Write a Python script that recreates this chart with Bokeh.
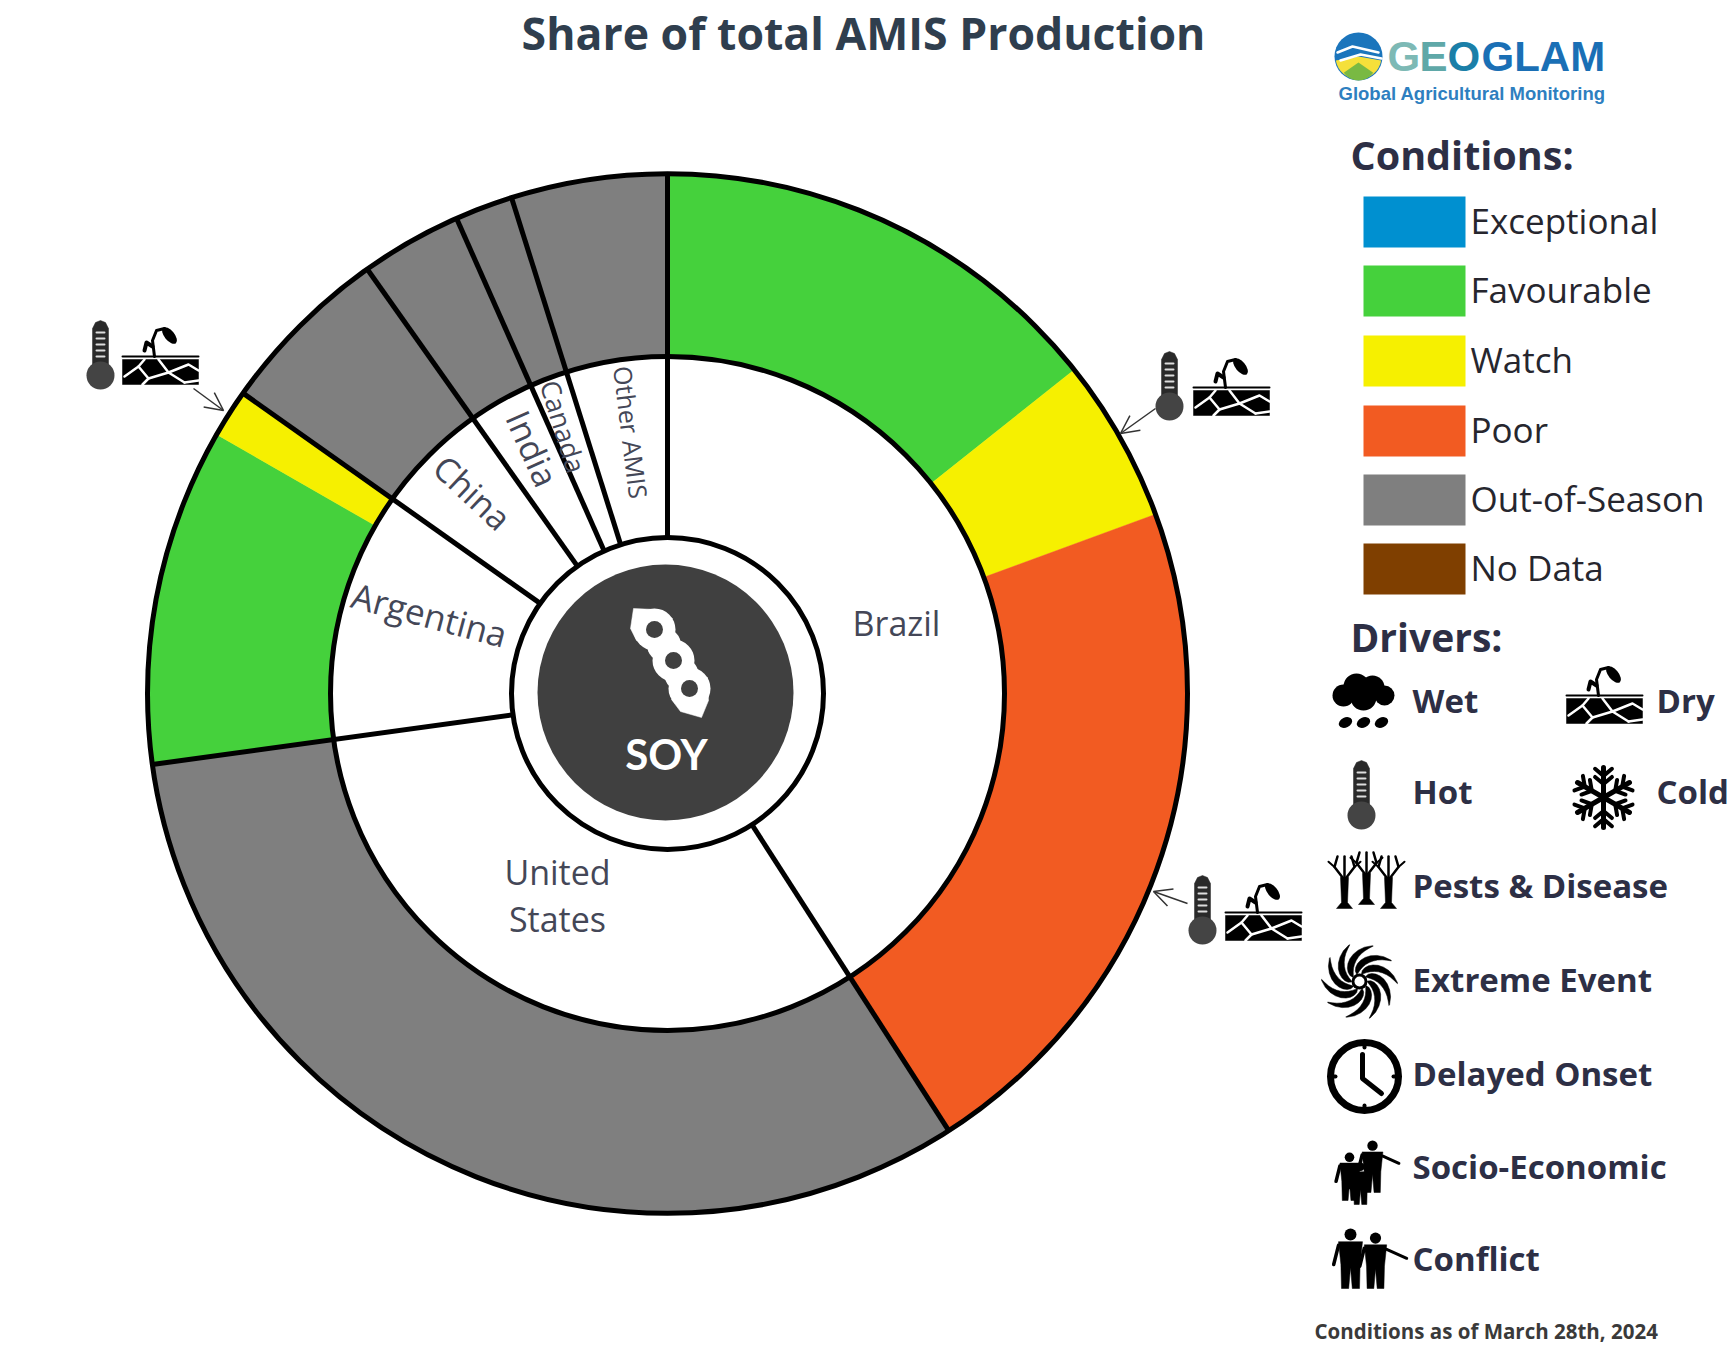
import math
import numpy as np
from bokeh.plotting import figure
from bokeh.models import Range1d, Arrow, OpenHead
from bokeh.core.properties import value
from bokeh.embed import file_html
from bokeh.resources import INLINE

# ---------- data ----------
countries = ["Brazil", "United States", "Argentina", "China", "India", "Canada", "Other AMIS"]
brazil_parts = [("Favourable", 14.3), ("Watch", 5.1), ("Poor", 21.5)]
us_parts = [("Out-of-Season", 31.92)]
argentina_parts = [("Favourable", 10.48), ("Watch", 1.5)]
china_parts = [("Out-of-Season", 5.4)]
india_parts = [("Out-of-Season", 3.15)]
canada_parts = [("Out-of-Season", 1.8)]
other_parts = [("Out-of-Season", 4.85)]
country_parts = [brazil_parts, us_parts, argentina_parts, china_parts, india_parts, canada_parts, other_parts]

condition_names = ["Exceptional", "Favourable", "Watch", "Poor", "Out-of-Season", "No Data"]
condition_colors = ["#0090d0", "#45d13c", "#f6f000", "#f25b22", "#7f7f7f", "#7f3f00"]
color_of = dict(zip(condition_names, condition_colors))

INK = "#2d2f45"
W, H = 1730, 1350
p = figure(width=W, height=H, output_backend="svg", toolbar_location=None,
           x_range=Range1d(0, W), y_range=Range1d(0, H), min_border=0)
p.xaxis.visible = False
p.yaxis.visible = False
p.xgrid.visible = False
p.ygrid.visible = False
p.outline_line_color = None
p.background_fill_color = "white"
p.border_fill_color = "white"


def Y(py):
    return 1350 - py


def txt(x, py, s, size, font="Open Sans", color=INK, style="normal", align="left", angle=0.0):
    p.text(x=[x], y=[Y(py - 2)], text=[s], text_font=value(font), text_font_size=value(f"{size}px"),
           text_color=color, text_font_style=style, text_align=align, text_baseline="middle",
           angle=[math.radians(angle)])


def poly(pts, color="black"):
    p.patch(x=[a for a, _ in pts], y=[Y(b) for _, b in pts], fill_color=color, line_color=color, line_width=0.5)


def line(pts, color="black", w=3.0):
    p.line(x=[a for a, _ in pts], y=[Y(b) for _, b in pts], line_color=color, line_width=w, line_cap="round",
           line_join="round")


def disc(x, py, r, color="black", rx=None):
    p.ellipse(x=[x], y=[Y(py)], width=[2 * (rx or r)], height=[2 * r], fill_color=color, line_color=None)


# ---------- sunburst ----------
CX, CY = 667, 693
R_OUT, R_MID, R_IN, R_HUB = 520, 337, 156, 127
BLACK_W = 5


def ang(share):
    return math.radians(90 - 360 * share / 100)


cum = 0.0
boundaries = []
for parts in country_parts:
    for cond, share in parts:
        p.annular_wedge(x=[CX], y=[Y(CY)], inner_radius=R_MID, outer_radius=R_OUT,
                        start_angle=[ang(cum)], end_angle=[ang(cum + share)], direction="clock",
                        fill_color=color_of[cond], line_color=color_of[cond], line_width=0.5)
        cum += share
    boundaries.append(cum)

p.circle(x=[CX], y=[Y(CY)], radius=R_MID, fill_color="white", line_color="black", line_width=BLACK_W)
p.circle(x=[CX], y=[Y(CY)], radius=R_OUT, fill_color=None, line_color="black", line_width=BLACK_W)
for b in [0.0] + boundaries[:-1]:
    a = ang(b)
    p.segment(x0=[CX + R_IN * math.cos(a)], y0=[Y(CY) + R_IN * math.sin(a)],
              x1=[CX + R_OUT * math.cos(a)], y1=[Y(CY) + R_OUT * math.sin(a)],
              line_color="black", line_width=BLACK_W)
p.circle(x=[CX], y=[Y(CY)], radius=R_IN, fill_color="white", line_color="black", line_width=BLACK_W)
disc(CX - 2, CY - 1, R_HUB + 1, "#404040")

# pod: pointed ends and three rounded lobes, each with a seed hole
pod_holes = [(654, 629), (673, 660), (689, 688)]
poly([(633, 608), (655, 609), (672, 618), (636, 640), (630, 628)], "white")
poly([(701, 717), (680, 711), (671, 699), (707, 677), (708, 700)], "white")
for hx, hy in pod_holes:
    disc(hx, hy, 21, "white")
for (ax, ay), (bx, by) in zip(pod_holes[:-1], pod_holes[1:]):
    disc((ax + bx) / 2, (ay + by) / 2, 17, "white")
for hx, hy in pod_holes:
    disc(hx, hy, 8.5, "#404040")
txt(666, 755, "SOY", 42, font="Lato", color="white", style="bold", align="center")

# ring labels
LAB = "#444757"
txt(896, 624, "Brazil", 34, color=LAB, align="center")
txt(557, 873, "United", 34, color=LAB, align="center")
txt(557, 920, "States", 34, color=LAB, align="center")
txt(429, 616, "Argentina", 35, color=LAB, align="center", angle=-15)
txt(472, 494, "China", 34, color=LAB, align="center", angle=-43)
txt(532, 450, "India", 34, color=LAB, align="center", angle=-66)
txt(563, 428, "Canada", 27, color=LAB, align="center", angle=-73)
txt(631, 437, "Other  AMIS", 25, color=LAB, align="center", angle=-83)

# title and footer
txt(863, 34, "Share of total AMIS Production", 44.6, color="#2f3e4e", style="bold", align="center")
txt(1314, 1332, "Conditions as of March 28th, 2024", 20.5, color="#3a3a3a", style="bold")


# ---------- icons ----------
def thermometer(cx, top):
    poly([(cx - 8, top + 8), (cx - 5, top + 2), (cx, top), (cx + 5, top + 2), (cx + 8, top + 8), (cx + 8, top + 55),
          (cx - 8, top + 55)], "#2a2a2a")
    disc(cx, top + 55, 14, "#444444")
    for k in range(5):
        line([(cx - 4, top + 12 + 6 * k), (cx + 4, top + 12 + 6 * k)], "#dddddd", 2)


def dry(x0, base):
    """Cracked soil with a wilting seedling; x0 = left edge, base = bottom of the soil."""
    poly([(x0, base - 25), (x0 + 76, base - 25), (x0 + 76, base), (x0, base)], "black")
    line([(x0, base - 28), (x0 + 76, base - 28)], "black", 2)
    cracks = [[(x0 + 2, base - 8), (x0 + 16, base - 18), (x0 + 26, base - 6), (x0 + 20, base)],
              [(x0 + 16, base - 18), (x0 + 22, base - 25)],
              [(x0 + 26, base - 6), (x0 + 46, base - 12), (x0 + 62, base - 2)],
              [(x0 + 46, base - 12), (x0 + 36, base - 25)],
              [(x0 + 46, base - 12), (x0 + 66, base - 20), (x0 + 76, base - 14)],
              [(x0 + 62, base - 2), (x0 + 76, base - 4)]]
    for c in cracks:
        line(c, "white", 2.5)
    line([(x0 + 32, base - 28), (x0 + 30, base - 44), (x0 + 34, base - 54), (x0 + 42, base - 56)], "black", 3)
    line([(x0 + 30, base - 38), (x0 + 24, base - 42), (x0 + 22, base - 34)], "black", 4)
    p.ellipse(x=[x0 + 47], y=[Y(base - 49)], width=[20], height=[10], angle=[math.radians(-50)],
              fill_color="black", line_color=None)


def wet(cx, cy):
    for dx, dy, r in [(-20, 2, 11), (-7, -7, 13), (9, -6, 12), (21, 2, 10), (0, 4, 13)]:
        disc(cx + dx, cy + dy, r)
    for dx in (-18, 0, 18):
        p.ellipse(x=[cx + dx], y=[Y(cy + 29)], width=[14], height=[10], angle=[math.radians(25)],
                  fill_color="black", line_color=None)


def cold(cx, cy, r=30):
    for k in range(6):
        a = math.radians(60 * k + 90)
        ca, sa = math.cos(a), math.sin(a)
        line([(cx, cy), (cx + r * ca, cy + r * sa)], "black", 5)
        for f in (0.45, 0.72):
            bx, by = cx + f * r * ca, cy + f * r * sa
            for s in (-1, 1):
                b = a + s * math.radians(50)
                line([(bx, by), (bx + 11 * math.cos(b), by + 11 * math.sin(b))], "black", 4)


def tree(cx, base, h):
    poly([(cx - 8, base), (cx - 3, base - 6), (cx - 4, base - h * 0.6), (cx + 4, base - h * 0.6), (cx + 3, base - 6),
          (cx + 8, base)], "black")
    for s in (-1, 1):
        line([(cx, base - h * 0.55), (cx + s * 10, base - h * 0.8), (cx + s * 7, base - h)], "black", 2.5)
        line([(cx + s * 10, base - h * 0.8), (cx + s * 16, base - h * 0.9)], "black", 2)
    line([(cx, base - h * 0.55), (cx, base - h)], "black", 2.5)


def extreme(cx, cy, r=38):
    for k in range(10):
        t0 = 2 * math.pi * k / 10
        rr = np.linspace(8, r, 10)
        th = t0 + 1.3 * (rr - 8) / (r - 8)
        wid = (4.0 * np.sin(np.pi * (rr - 8) / (r - 8)) ** 0.7 + 0.5) / rr
        side_a = [(cx + q * math.cos(t - d), cy + q * math.sin(t - d)) for q, t, d in zip(rr, th, wid)]
        side_b = [(cx + q * math.cos(t + d), cy + q * math.sin(t + d)) for q, t, d in zip(rr, th, wid)]
        poly(side_a + side_b[::-1])
    disc(cx, cy, 8, "black")
    disc(cx, cy, 5, "white")


def clock(cx, cy, r=34):
    p.circle(x=[cx], y=[Y(cy)], radius=r, fill_color="white", line_color="black", line_width=7)
    line([(cx - 2, cy - 22), (cx - 2, cy + 2), (cx + 17, cy + 17)], "black", 5)
    for k in range(4):
        a = math.pi / 2 * k
        line([(cx + (r - 5) * math.cos(a), cy + (r - 5) * math.sin(a)),
              (cx + r * math.cos(a), cy + r * math.sin(a))], "black", 4)


def person(cx, top, h, arm=0):
    u = h / 10
    disc(cx, top + u, u)
    poly([(cx - 2 * u, top + 2.2 * u), (cx + 2 * u, top + 2.2 * u), (cx + 1.6 * u, top + 6 * u),
          (cx + 1.5 * u, top + h), (cx + 0.3 * u, top + h), (cx, top + 6.5 * u), (cx - 0.3 * u, top + h),
          (cx - 1.5 * u, top + h), (cx - 1.6 * u, top + 6 * u)])
    line([(cx - 2 * u, top + 2.8 * u), (cx - 2.8 * u, top + 6 * u)], "black", 3.5)
    if arm:
        line([(cx + 2 * u, top + 3 * u), (cx + 2 * u + arm, top + 3 * u + arm * 0.45)], "black", 3)


# ---------- logo ----------
disc(1358, 56, 24, "#1b75bc", rx=24)
p.wedge(x=[1358], y=[Y(56)], radius=23, start_angle=[math.radians(190)], end_angle=[math.radians(350)],
        fill_color="#f5e03a", line_color=None)
p.wedge(x=[1358], y=[Y(62)], radius=18, start_angle=[math.radians(215)], end_angle=[math.radians(325)],
        fill_color="#79b943", line_color=None)
line([(1337, 52), (1352, 46), (1378, 52)], "white", 2.5)
line([(1340, 60), (1360, 54), (1381, 58)], "white", 2.5)
txt(1387, 58, "G", 42, font="Liberation Sans", color="#7db9b5", style="bold")
txt(1419, 58, "E", 42, font="Liberation Sans", color="#5fa8a8", style="bold")
txt(1447, 58, "O", 42, font="Liberation Sans", color="#1a7fa8", style="bold")
txt(1481, 58, "GLAM", 42, font="Liberation Sans", color="#1a6fb5", style="bold")
txt(1338, 95, "Global Agricultural Monitoring", 18.5, font="Liberation Sans", color="#2e7fc0", style="bold")

# ---------- legend: conditions ----------
txt(1350, 156, "Conditions:", 39.5, style="bold")
for name, col, sy in zip(condition_names, condition_colors, [196, 265, 335, 405, 474, 543]):
    p.quad(left=[1363], right=[1465], top=[Y(sy)], bottom=[Y(sy + 51)], fill_color=col, line_color=None)
    txt(1470, sy + 26, name, 35, color="#26262e")

# ---------- legend: drivers ----------
txt(1350, 638, "Drivers:", 39, style="bold")
txt(1412, 702, "Wet", 33, style="bold")
txt(1656, 702, "Dry", 33, style="bold")
txt(1412, 793, "Hot", 33, style="bold")
txt(1656, 793, "Cold", 33, style="bold")
txt(1412, 887, "Pests & Disease", 33, style="bold")
txt(1412, 981, "Extreme Event", 33, style="bold")
txt(1412, 1075, "Delayed Onset", 33, style="bold")
txt(1412, 1168, "Socio-Economic", 33, style="bold")
txt(1412, 1260, "Conflict", 33, style="bold")

wet(1363, 693)
dry(1566, 723)
thermometer(1361, 760)
cold(1603, 797)
tree(1344, 908, 52)
tree(1366, 904, 52)
tree(1388, 908, 52)
extreme(1359, 981)
clock(1364, 1076)
person(1349, 1152, 48, 0)
person(1372, 1140, 52, 16)
person(1360, 1162, 42, 0)
person(1350, 1228, 60, 0)
person(1375, 1232, 56, 20)

# ---------- drivers on the chart ----------
for tx, dx_left, ty, base, ar in [
    (100, 122, 320, 384, (193, 388, 223, 410)),
    (1169, 1193, 351, 415, (1155, 408, 1120, 433)),
    (1202, 1225, 875, 940, (1187, 903, 1153, 891)),
]:
    thermometer(tx, ty)
    dry(dx_left, base)
    p.add_layout(Arrow(end=OpenHead(size=18, line_color="#333333", line_width=1.5), x_start=ar[0], y_start=Y(ar[1]),
                       x_end=ar[2], y_end=Y(ar[3]), line_color="#333333", line_width=1.5))

open("out.html", "w").write(file_html(p, INLINE))
